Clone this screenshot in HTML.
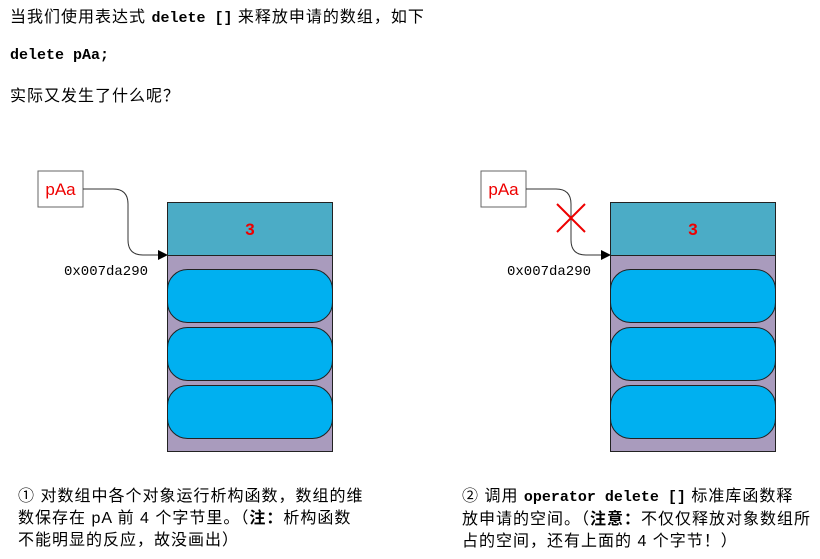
<!DOCTYPE html>
<html><head><meta charset="utf-8"><style>
body{margin:0;width:820px;height:559px;background:#fff;overflow:hidden;position:relative;font-family:"Liberation Sans","Noto Sans CJK SC",sans-serif;color:#000}
.t{position:absolute;font-size:16px;line-height:22px;white-space:nowrap;letter-spacing:1px}
.m{font-family:"Liberation Mono","Noto Sans CJK SC",monospace;font-weight:bold;font-size:15px;letter-spacing:0}
.b{position:absolute;font-size:16px;line-height:22px;white-space:nowrap;letter-spacing:1px}
</style></head><body>
<div class="t" style="left:10px;top:7px">当我们使用表达式 <span class="m">delete []</span> 来释放申请的数组，如下</div>
<div class="t m" style="left:10px;top:45px">delete pAa;</div>
<div class="t" style="left:10px;top:86px">实际又发生了什么呢？</div>
<svg width="820" height="559" style="position:absolute;left:0;top:0" font-family="Liberation Sans, sans-serif">
<defs><marker id="a" markerWidth="10" markerHeight="10" refX="9" refY="5" orient="auto" markerUnits="userSpaceOnUse"><path d="M0,0 L10,5 L0,10 z" fill="#000"/></marker></defs>
<g id="L">
<rect x="38" y="171" width="45" height="36" fill="#fff" stroke="#666"/>
<text x="60.5" y="195" fill="#e00" font-size="17" text-anchor="middle">pAa</text>
<path d="M83,189 H113 Q128,189 128,204 V240 Q128,255 143,255 H167" fill="none" stroke="#333" marker-end="url(#a)"/>
<rect x="167.5" y="202.5" width="165" height="53" fill="#4BACC6" stroke="#222"/>
<rect x="167.5" y="255.5" width="165" height="196" fill="#A99BBD" stroke="#222"/>
<text x="250" y="235" fill="#e00" font-size="17" font-weight="bold" text-anchor="middle">3</text>
<rect x="167.5" y="269.5" width="165" height="53" rx="20" fill="#00B0F0" stroke="#222"/>
<rect x="167.5" y="327.5" width="165" height="53" rx="20" fill="#00B0F0" stroke="#222"/>
<rect x="167.5" y="385.5" width="165" height="53" rx="20" fill="#00B0F0" stroke="#222"/>
<text x="64" y="275" font-family="Liberation Mono, monospace" font-size="14">0x007da290</text>
</g>
<use href="#L" x="443"/>
<path d="M557,204 L585,232 M585,204 L557,232" stroke="#e00" stroke-width="2"/>
</svg>
<div class="b" style="left:18px;top:486px">① 对数组中各个对象运行析构函数，数组的维<br>数保存在 pA 前 4 个字节里。（<b>注：</b>析构函数<br>不能明显的反应，故没画出）</div>
<div class="b" style="left:462px;top:486px">② 调用 <span class="m">operator delete []</span> 标准库函数释<br>放申请的空间。（<b>注意：</b>不仅仅释放对象数组所<br>占的空间，还有上面的 4 个字节！）</div>
</body></html>
